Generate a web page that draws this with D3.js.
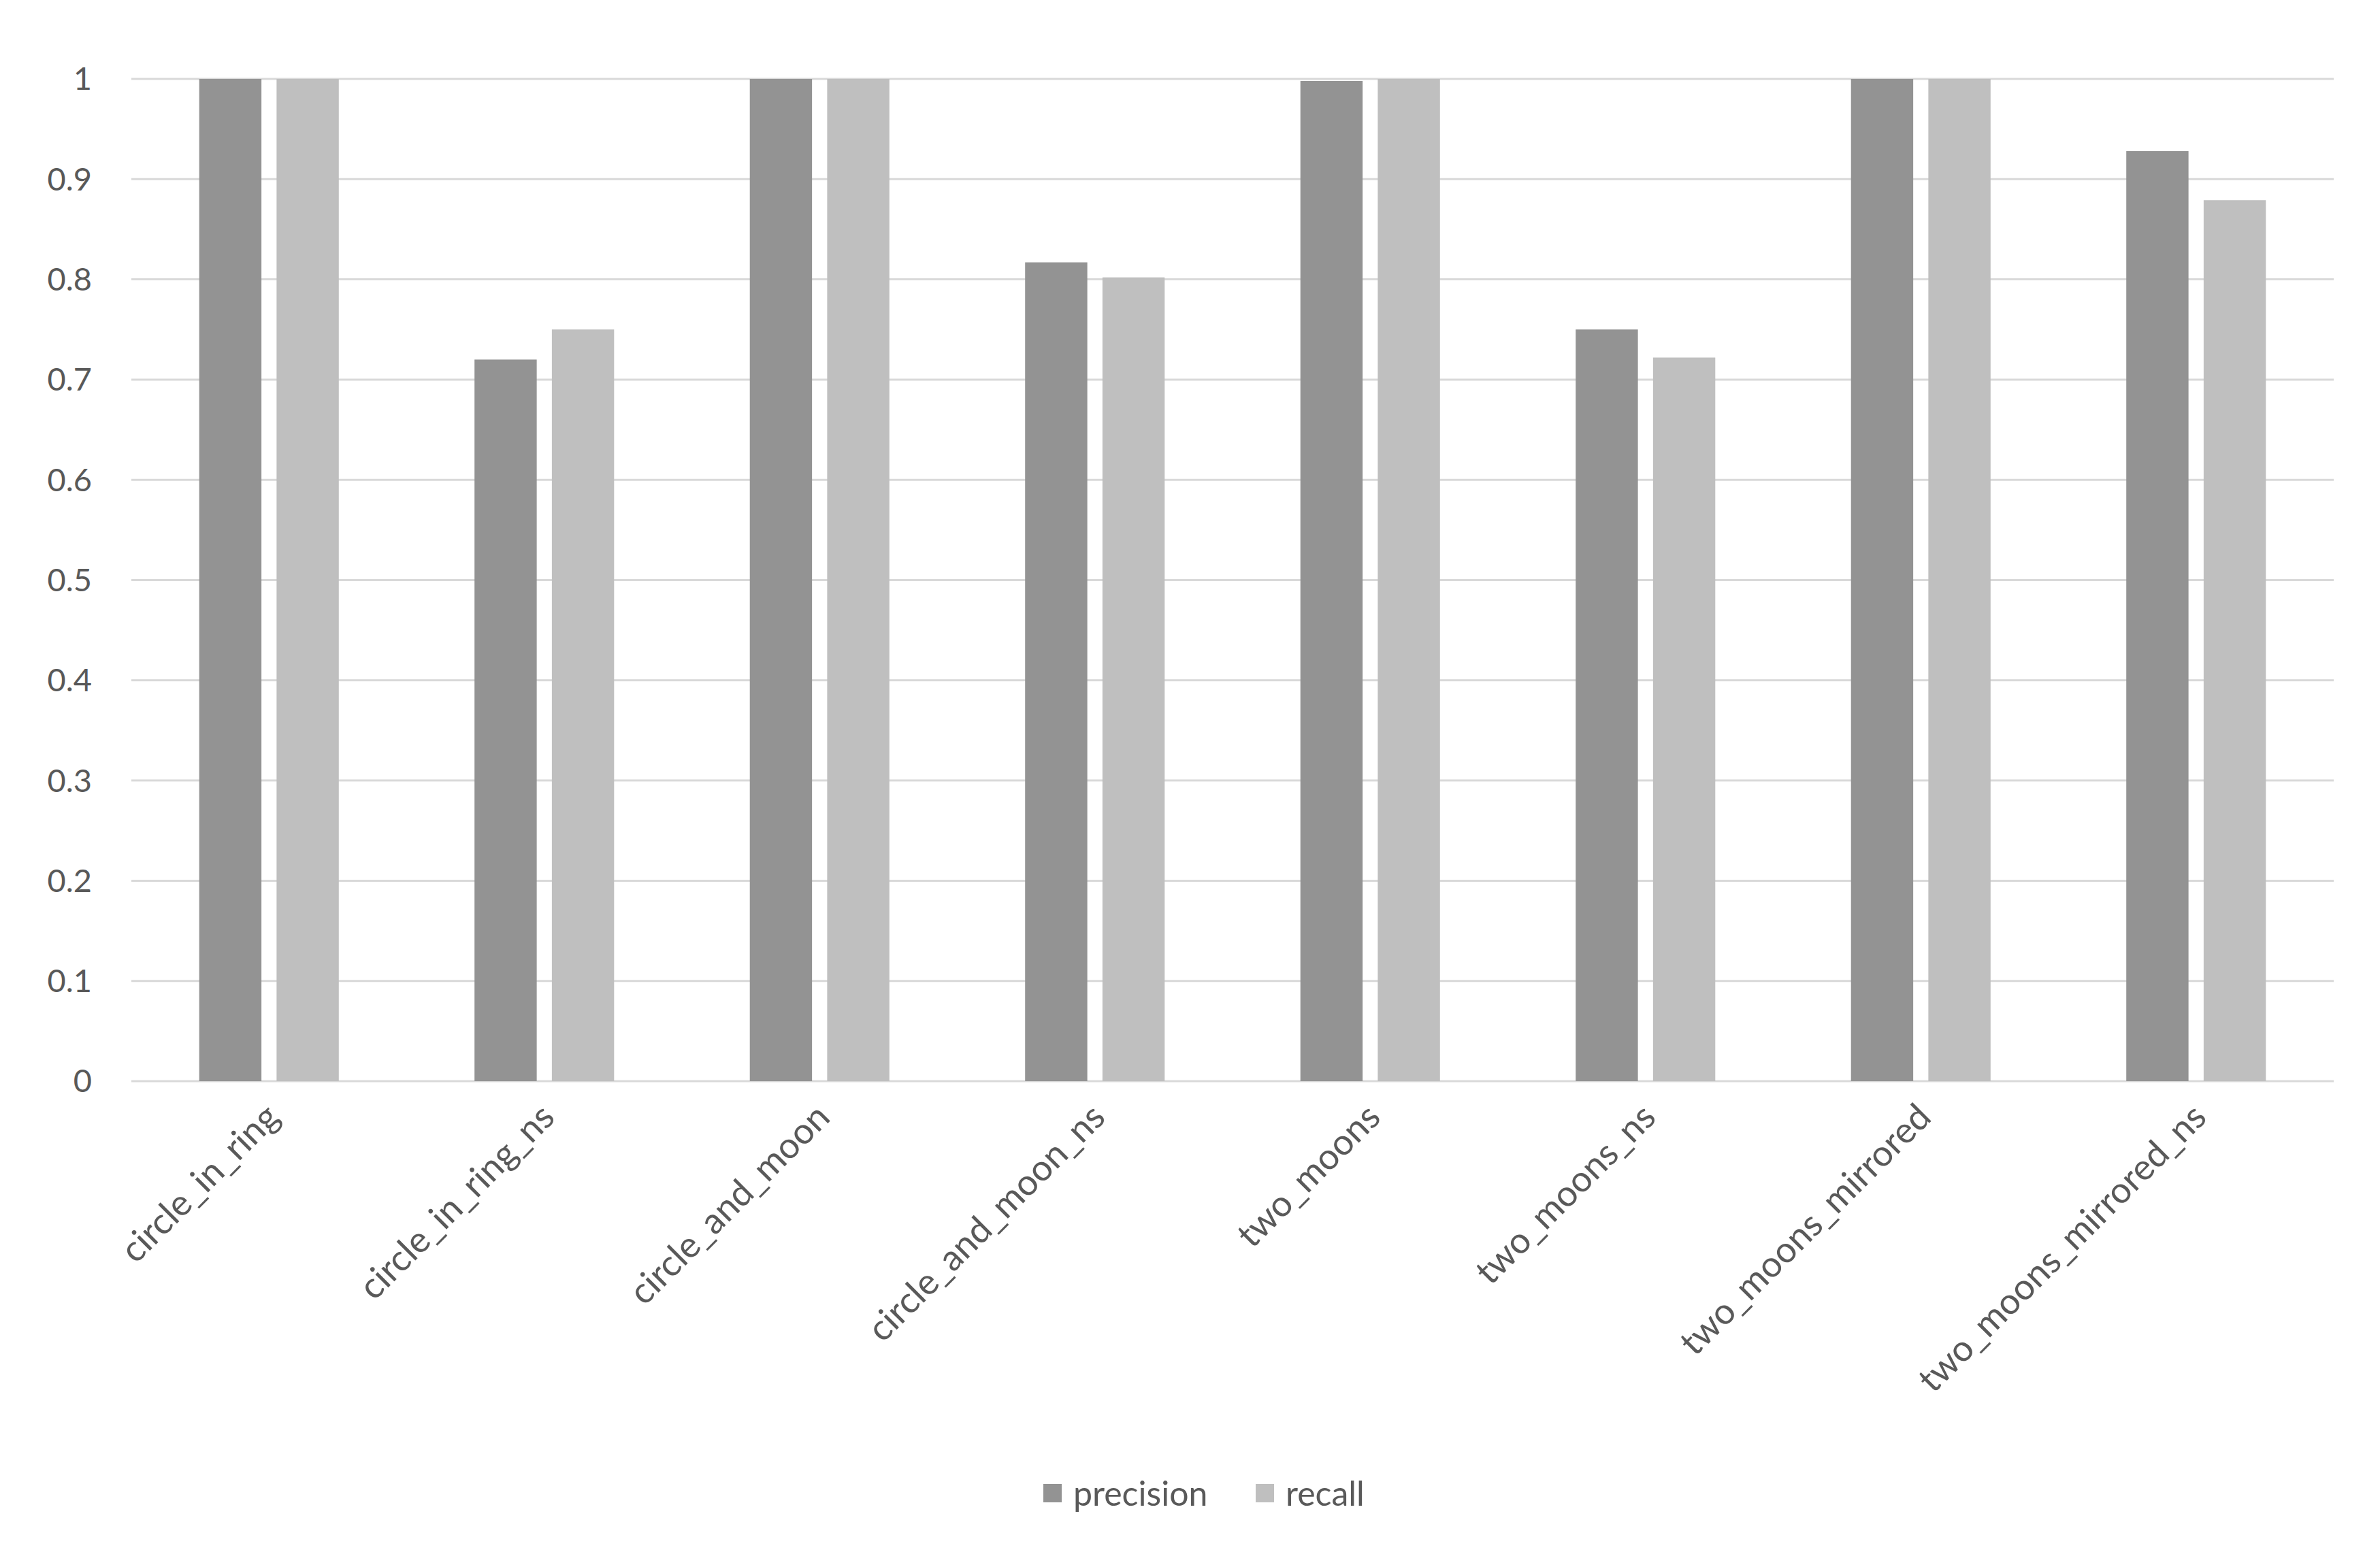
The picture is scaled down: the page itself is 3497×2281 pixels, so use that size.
<!DOCTYPE html>
<html>
<head>
<meta charset="utf-8">
<script src="https://cdn.jsdelivr.net/npm/d3@7"></script>
<style>
  body { margin: 0; background: #fff; }
  text { font-family: Lato, "Open Sans", sans-serif; fill: #595959; }
</style>
</head>
<body>
<div class="container"></div>
<script>
const categories = ["circle_in_ring", "circle_in_ring_ns", "circle_and_moon", "circle_and_moon_ns",
  "two_moons", "two_moons_ns", "two_moons_mirrored", "two_moons_mirrored_ns"];
const precision = [1, 0.72, 1, 0.817, 0.998, 0.75, 1, 0.928];
const recall = [1, 0.75, 1, 0.802, 1, 0.722, 1, 0.879];
const seriesNames = ["precision", "recall"];
const seriesColors = ["#939393", "#bfbfbf"];
const yTicks = [0, 0.1, 0.2, 0.3, 0.4, 0.5, 0.6, 0.7, 0.8, 0.9, 1];

const width = 3497, height = 2281;
const margin = {left: 193, right: 68, top: 116, bottom: 692};

let svg = d3.select(".container").append("svg")
  .attr("width", width).attr("height", height);

const x = d3.scaleBand().domain(categories)
  .range([margin.left, width - margin.right]).paddingInner(0).paddingOuter(0);
const y = d3.scaleLinear().domain([0, 1]).range([height - margin.bottom, margin.top]);
// two bars per category with a small gap between them
const barW = x.bandwidth() * 0.226;
const gap = x.bandwidth() * 0.055;
const start = (x.bandwidth() - 2 * barW - gap) / 2;

// gridlines
svg.append("g").selectAll("line").data(yTicks).enter().append("line")
  .attr("x1", margin.left).attr("x2", width - margin.right)
  .attr("y1", d => y(d)).attr("y2", d => y(d))
  .attr("stroke", "#d9d9d9").attr("stroke-width", 3);

// y labels
svg.append("g").selectAll("text").data(yTicks).enter().append("text")
  .attr("x", 135).attr("y", d => y(d)).attr("dy", "0.35em")
  .attr("text-anchor", "end").attr("font-size", 47)
  .text(d => d3.format("~g")(d));

const seriesData = [precision, recall];
seriesData.forEach((vals, s) => {
  svg.append("g").selectAll("rect").data(vals).enter().append("rect")
    .attr("x", (d, i) => x(categories[i]) + start + s * (barW + gap))
    .attr("width", barW)
    .attr("y", d => y(d))
    .attr("height", d => y(0) - y(d))
    .attr("fill", seriesColors[s]);
});

// category labels, rotated
svg.append("g").selectAll("text").data(categories).enter().append("text")
  .attr("transform", d => `translate(${x(d) + x.bandwidth() / 2 + 18}, 1645) rotate(-45)`)
  .attr("text-anchor", "end").attr("font-size", 53)
  .text(d => d);

// legend
const legend = svg.append("g");
const legendX = [1533, 1845];
seriesNames.forEach((n, i) => {
  legend.append("rect").attr("x", legendX[i]).attr("y", 2181)
    .attr("width", 27).attr("height", 27).attr("fill", seriesColors[i]);
  legend.append("text").attr("x", legendX[i] + 44).attr("y", 2195).attr("dy", "0.35em")
    .attr("font-size", 50).text(n);
});
</script>
</body>
</html>
